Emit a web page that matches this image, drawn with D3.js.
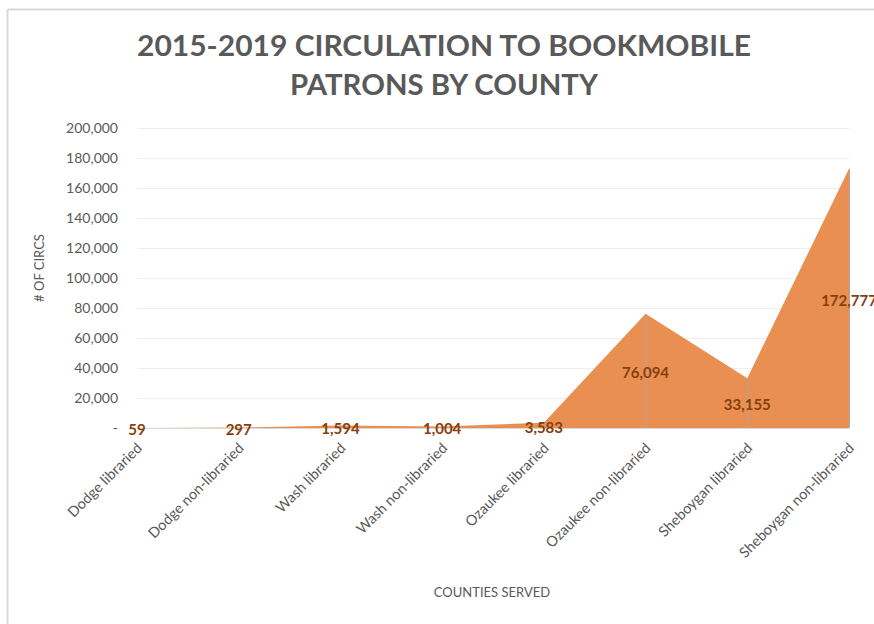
<!DOCTYPE html>
<html>
<head>
<meta charset="utf-8">
<script src="https://cdn.jsdelivr.net/npm/d3@7"></script>
<style>
  body { margin: 0; background: #fff; }
  svg { display: block; }
  text { font-family: Lato, "Open Sans", sans-serif; }
</style>
</head>
<body>
<svg id="chart" width="874" height="624"></svg>
<script>
const categories = [
  "Dodge libraried", "Dodge non-libraried", "Wash libraried", "Wash non-libraried",
  "Ozaukee libraried", "Ozaukee non-libraried", "Sheboygan libraried", "Sheboygan non-libraried"
];
const circs = [59, 297, 1594, 1004, 3583, 76094, 33155, 172777];
const yTicks = [0, 20000, 40000, 60000, 80000, 100000, 120000, 140000, 160000, 180000, 200000];
const titleLines = ["2015-2019 CIRCULATION TO BOOKMOBILE", "PATRONS BY COUNTY"];

const svg = d3.select("#chart");
const textGray = "#595959";

// chart frame (only top + left edges show in the reference)
svg.append("line").attr("x1", 7.5).attr("x2", 874).attr("y1", 9.5).attr("y2", 9.5)
  .attr("stroke", "#d9d9d9").attr("stroke-width", 2);
svg.append("line").attr("x1", 7.5).attr("x2", 7.5).attr("y1", 9.5).attr("y2", 624)
  .attr("stroke", "#d9d9d9").attr("stroke-width", 2);

// title
svg.append("g").selectAll("text").data(titleLines).enter().append("text")
  .attr("x", 444).attr("y", (d, i) => 56 + i * 39)
  .attr("text-anchor", "middle")
  .attr("font-size", 29).attr("font-weight", "bold").attr("fill", textGray)
  .attr("textLength", (d, i) => i === 0 ? 614 : 308)
  .attr("lengthAdjust", "spacingAndGlyphs")
  .text(d => d);

const x = d3.scalePoint().domain(categories).range([137, 849]);
const y = d3.scaleLinear().domain([0, 200000]).range([428, 128]);

// gridlines
svg.append("g").selectAll("line").data(yTicks).enter().append("line")
  .attr("x1", 137).attr("x2", 849)
  .attr("y1", d => y(d) + 0.5).attr("y2", d => y(d) + 0.5)
  .attr("stroke", d => d === 0 ? "#d9d9d9" : "#eeeeee").attr("stroke-width", 1);

// y axis labels
const fmt = d3.format(",");
svg.append("g").selectAll("text").data(yTicks).enter().append("text")
  .attr("x", 118).attr("y", d => y(d)).attr("dy", "0.35em")
  .attr("text-anchor", "end").attr("font-size", 14).attr("fill", textGray)
  .text(d => d === 0 ? "-" : fmt(d));

// area
const data = categories.map((c, i) => ({ cat: c, v: circs[i] }));
const area = d3.area()
  .x(d => x(d.cat))
  .y0(y(0))
  .y1(d => y(d.v));
svg.append("path").datum(data).attr("d", area).attr("fill", "#e98f51");

// drop lines inside the area
svg.append("g").selectAll("line").data(data).enter().append("line")
  .attr("x1", d => x(d.cat) + 0.5).attr("x2", d => x(d.cat) + 0.5)
  .attr("y1", d => y(d.v)).attr("y2", y(0))
  .attr("stroke", "#a8a8a8").attr("stroke-width", 1);

// data labels (centred in the band, like Excel)
svg.append("g").selectAll("text").data(data).enter().append("text")
  .attr("x", d => x(d.cat)).attr("y", d => y(d.v / 2) + 2).attr("dy", "0.35em")
  .attr("text-anchor", "middle").attr("font-size", 15).attr("font-weight", "bold")
  .attr("fill", "#86400f")
  .text(d => fmt(d.v));

// x axis labels, rotated
svg.append("g").selectAll("text").data(categories).enter().append("text")
  .attr("transform", d => `translate(${x(d) + 6},${449}) rotate(-45)`)
  .attr("text-anchor", "end").attr("font-size", 14.5).attr("fill", textGray)
  .text(d => d);

// axis titles
svg.append("text").attr("x", 492).attr("y", 597)
  .attr("text-anchor", "middle").attr("font-size", 13).attr("fill", textGray)
  .text("COUNTIES SERVED");
svg.append("text").attr("transform", "translate(44,268) rotate(-90)")
  .attr("text-anchor", "middle").attr("font-size", 13).attr("fill", textGray)
  .text("# OF CIRCS");
</script>
</body>
</html>
